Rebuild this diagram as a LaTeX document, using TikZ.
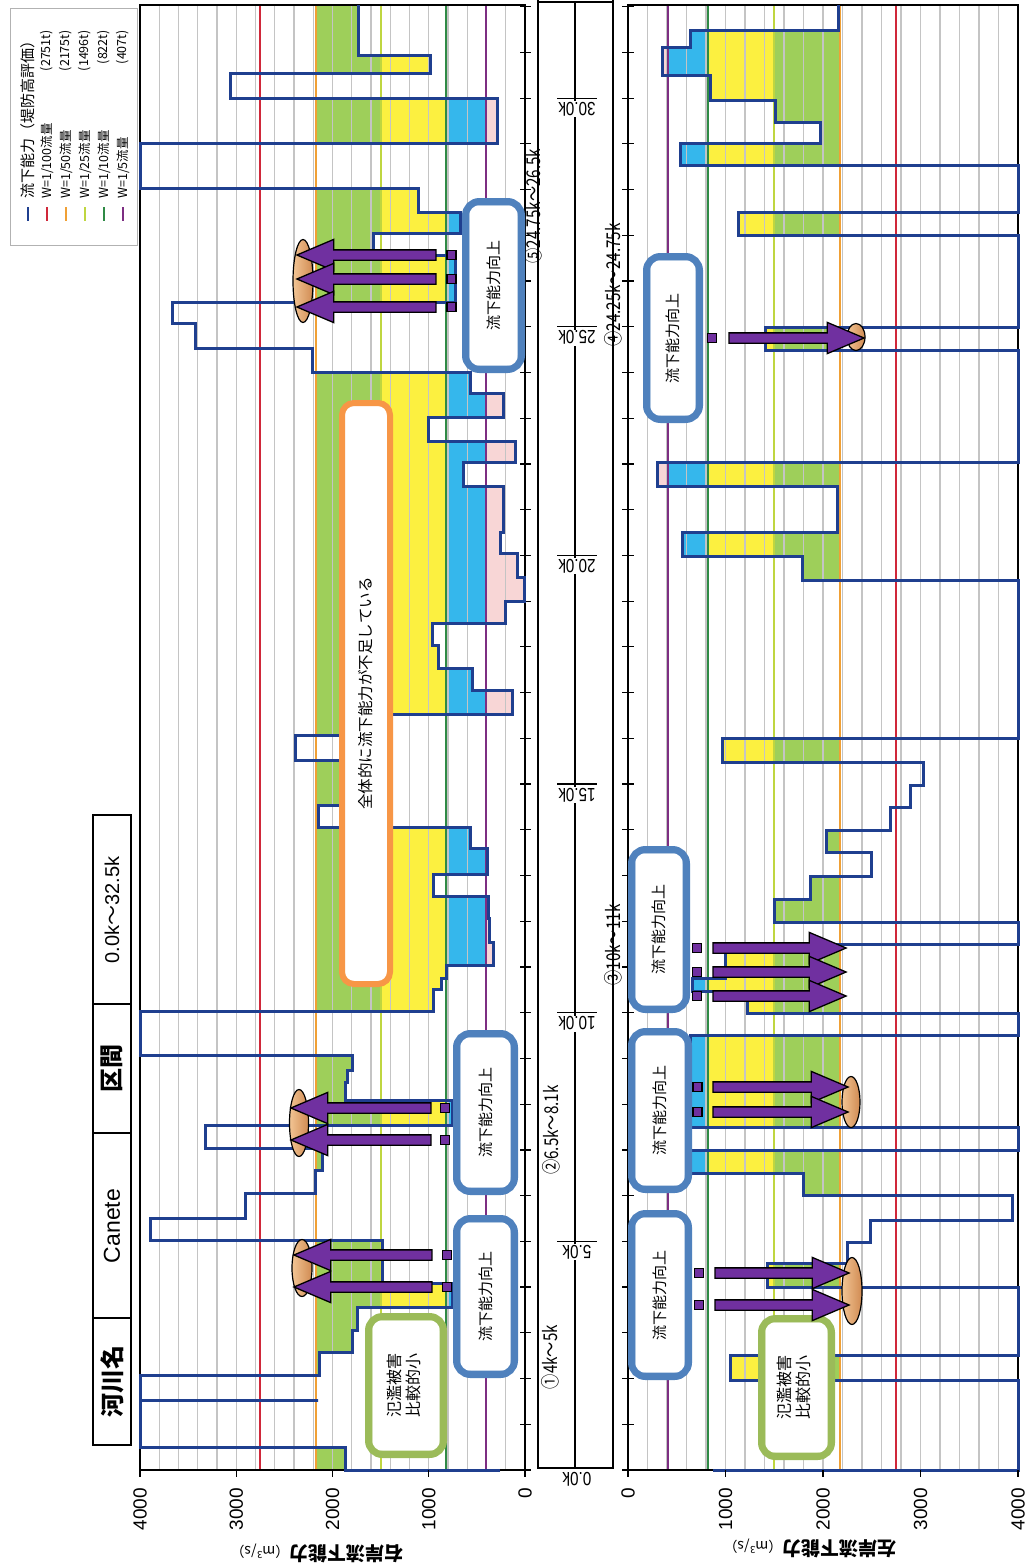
\documentclass[tikz,border=0pt]{standalone}
\usepackage{fontspec}
\setmainfont{Noto Sans CJK JP}
\newfontfamily\jpf{Noto Sans CJK JP}
\newfontfamily\jpn{Noto Sans CJK JP}[FakeStretch=0.8]
\newfontfamily\arf{Liberation Sans}
\newfontfamily\arn{Liberation Sans}[FakeStretch=0.8]
\usetikzlibrary{shapes.geometric,shapes.arrows}
\newcommand\myfs[1]{\fontsize{#1pt}{#1pt}\selectfont}
\definecolor{capblue}{HTML}{1F3F8F}
\definecolor{fgreen}{HTML}{9ECF5A}
\definecolor{fyellow}{HTML}{FCF040}
\definecolor{fcyan}{HTML}{35B7EC}
\definecolor{fpink}{HTML}{F8D6D6}
\definecolor{tred}{HTML}{D0283A}
\definecolor{torange}{HTML}{F0A035}
\definecolor{tyg}{HTML}{BFD640}
\definecolor{tgreen}{HTML}{2F8A45}
\definecolor{tpurple}{HTML}{7D2E82}
\definecolor{gridg}{HTML}{C4C4C4}
\definecolor{boxblue}{HTML}{4F81BD}
\definecolor{boxgreen}{HTML}{9BBB59}
\definecolor{boxorange}{HTML}{F79646}
\definecolor{arrpurple}{HTML}{7030A0}
\definecolor{ellA}{HTML}{F2C594}
\definecolor{ellB}{HTML}{D08A52}
\def\leftcap{(500,1470) -- (345,1470) -- (345,1447) -- (140,1447) -- (140,1400) -- (318,1400) -- (140,1400) -- (140,1375) -- (319,1375) -- (319,1352) -- (352,1352) -- (352,1330) -- (357,1330) -- (357,1307) -- (452,1307) -- (452,1283) -- (382,1283) -- (382,1240) -- (150,1240) -- (150,1218) -- (245,1218) -- (245,1193) -- (315,1193) -- (315,1170) -- (322,1170) -- (322,1148) -- (205,1148) -- (205,1125) -- (452,1125) -- (452,1100) -- (345,1100) -- (345,1082) -- (347,1082) -- (347,1070) -- (352,1070) -- (352,1055) -- (140,1055) -- (140,1011) -- (433,1011) -- (433,989) -- (441,989) -- (441,978) -- (446,978) -- (446,965) -- (493,965) -- (493,942) -- (489,942) -- (489,918) -- (488,918) -- (488,896) -- (433,896) -- (433,874) -- (487,874) -- (487,848) -- (470,848) -- (470,827) -- (318,827) -- (318,805) -- (375,805) -- (375,760) -- (295,760) -- (295,735) -- (375,735) -- (375,714) -- (512,714) -- (512,690) -- (472,690) -- (472,668) -- (438,668) -- (438,645) -- (432,645) -- (432,623) -- (505,623) -- (505,601) -- (524,601) -- (524,577) -- (517,577) -- (517,553) -- (500,553) -- (500,532) -- (503,532) -- (503,486) -- (463,486) -- (463,462) -- (515,462) -- (515,441) -- (428,441) -- (428,417) -- (503,417) -- (503,393) -- (470,393) -- (470,372) -- (312,372) -- (312,348) -- (195,348) -- (195,323) -- (172,323) -- (172,302) -- (455,302) -- (455,255) -- (373,255) -- (373,233) -- (460,233) -- (460,212) -- (418,212) -- (418,188) -- (140,188) -- (140,143) -- (497,143) -- (497,98) -- (230,98) -- (230,73) -- (430,73) -- (430,55) -- (358,55) -- (358,5)}
\def\rightcap{(713,1470) -- (1018,1470) -- (1018,1380) -- (730,1380) -- (730,1355) -- (1018,1355) -- (1018,1287) -- (767,1287) -- (767,1263) -- (847,1263) -- (847,1242) -- (870,1242) -- (870,1220) -- (1012,1220) -- (1012,1195) -- (803,1195) -- (803,1173) -- (690,1173) -- (690,1150) -- (1018,1150) -- (1018,1127) -- (690,1127) -- (690,1035) -- (1018,1035) -- (1018,1013) -- (747,1013) -- (747,991) -- (692,991) -- (692,978) -- (725,978) -- (725,944) -- (1018,944) -- (1018,922) -- (774,922) -- (774,899) -- (810,899) -- (810,876) -- (871,876) -- (871,852) -- (826,852) -- (826,830) -- (890,830) -- (890,807) -- (910,807) -- (910,785) -- (923,785) -- (923,762) -- (722,762) -- (722,738) -- (1018,738) -- (1018,580) -- (802,580) -- (802,556) -- (682,556) -- (682,532) -- (837,532) -- (837,486) -- (657,486) -- (657,462) -- (1018,462) -- (1018,350) -- (765,350) -- (765,327) -- (1018,327) -- (1018,235) -- (738,235) -- (738,212) -- (1018,212) -- (1018,165) -- (680,165) -- (680,143) -- (820,143) -- (820,122) -- (775,122) -- (775,100) -- (710,100) -- (710,75) -- (662,75) -- (662,47) -- (690,47) -- (690,30) -- (838,30) -- (838,5)}
\newcommand\dblbox[7]{%
  \node[draw=#6, line width=7pt, rounded corners=14pt, fill=white, minimum width=#4pt, minimum height=#5pt, inner sep=0pt] (#1) at (#2,#3) {#7};
  \draw[#6, line width=1.6pt, rounded corners=8pt] ([xshift=6.5pt,yshift=-6.5pt]#1.north west) rectangle ([xshift=-6.5pt,yshift=6.5pt]#1.south east);}
\begin{document}
\begin{tikzpicture}[x=1pt,y=-1pt,
  capline/.style={capblue, line width=3pt, line join=miter},
  gridln/.style={gridg, line width=1.3pt},
  axisln/.style={black, line width=1.2pt},
  thr/.style={line width=2.2pt},
  parrow/.style={single arrow, draw=black, line width=1.3pt, fill=arrpurple, inner sep=4.5pt, single arrow head extend=10.5pt, single arrow tip angle=46, minimum width=0pt},
  psq/.style={rectangle, draw=black, line width=1.2pt, fill=arrpurple, minimum size=9pt, inner sep=0pt},
  ell/.style={ellipse, draw=black, line width=1.2pt, left color=ellA, right color=ellB, inner sep=0pt},
  rlab/.style={rotate=90, inner sep=1pt},
  ticklab/.style={rotate=90, anchor=east, inner sep=0pt},
  dlab/.style={rotate=180, fill=white, inner sep=1pt}]
\useasboundingbox (0,0) rectangle (1026,1566);
\fill[white] (0,0) rectangle (1026,1566);
% ---------- left chart fills
\fill[fgreen] (316,5) rectangle (381,1470);
\fill[fyellow] (381,5) rectangle (446,1470);
\fill[fcyan] (446,5) rectangle (486,1470);
\fill[fpink] (486,5) rectangle (525,1470);
\fill[white] \leftcap -- (525,5) -- (525,1470) -- cycle;
% ---------- right chart fills
\fill[fpink] (628,5) rectangle (668,1470);
\fill[fcyan] (668,5) rectangle (708,1470);
\fill[fyellow] (708,5) rectangle (774,1470);
\fill[fgreen] (774,5) rectangle (840,1470);
\fill[white] \rightcap -- (628,5) -- (628,1470) -- cycle;
% ---------- grids
\foreach \k in {1,...,19} {
  \draw[gridln] ({525-19.25*\k},5) -- ({525-19.25*\k},1470);
  \draw[gridln] ({628+19.5*\k},5) -- ({628+19.5*\k},1470);
}
% ---------- thresholds
\draw[thr, tred] (260,5) -- (260,1470);
\draw[thr, torange] (316,5) -- (316,1470);
\draw[thr, tyg] (381,5) -- (381,1470);
\draw[thr, tgreen] (446,5) -- (446,1470);
\draw[thr, tpurple] (486,5) -- (486,1470);
\draw[thr, tred] (896,5) -- (896,1470);
\draw[thr, torange] (840,5) -- (840,1470);
\draw[thr, tyg] (774,5) -- (774,1470);
\draw[thr, tgreen] (708,5) -- (708,1470);
\draw[thr, tpurple] (668,5) -- (668,1470);
% ---------- frames and ticks
\draw[axisln] (140,5) rectangle (525,1470);
\draw[axisln] (628,5) rectangle (1018,1470);
\foreach \d in {0,...,32} {
  \draw[axisln] (520,{1470-45.73*\d}) -- (531,{1470-45.73*\d});
  \draw[axisln] (622,{1470-45.73*\d}) -- (634,{1470-45.73*\d});
}
% ---------- capacity lines
\draw[capline] \leftcap;
\draw[capline] \rightcap;
\foreach \k/\t in {0/0,1/1000,2/2000,3/3000,4/4000} {
  \draw[axisln] ({525-96.25*\k},1470) -- ({525-96.25*\k},1477);
  \draw[axisln] ({628+97.5*\k},1470) -- ({628+97.5*\k},1477);
  \node[ticklab] (tl\k) at ({525-96.25*\k},1488) {\arf\myfs{19}\t};
  \node[ticklab] (tr\k) at ({628+97.5*\k},1488) {\arf\myfs{19}\t};
}
\node[rotate=180] (ttl) at (317,1553) {\bfseries\myfs{19}右岸流下能力\mdseries\myfs{14}（m\textsuperscript{3}/s）};
\node[rotate=180] (ttr) at (810,1548) {\bfseries\myfs{19}左岸流下能力\mdseries\myfs{14}（m\textsuperscript{3}/s）};
% ---------- center distance strip
\draw[axisln] (538,0) -- (538,1468) -- (613,1468) -- (613,0);
\draw[axisln] (538,2) -- (613,2);
\draw[axisln] (575,2) -- (575,1468);
\foreach \d/\t in {5/5.0k,10/10.0k,15/15.0k,20/20.0k,25/25.0k,30/30.0k} {
  \draw[axisln] (557,{1470-45.73*\d}) -- (597,{1470-45.73*\d});
  \node[dlab] (d\d) at (577,{1481-45.73*\d}) {\arn\myfs{19}\t};
}
\node[dlab] (d0) at (577,1479) {\arn\myfs{19}0.0k};
% ---------- section labels
\node[rlab] (r1) at (550,1357) {\jpn\myfs{19}①4k～5k};
\node[rlab] (r2) at (551,1130) {\jpn\myfs{19}②6.5k～8.1k};
\node[rlab] (r3) at (613,945) {\jpn\myfs{19}③10k～11k};
\node[rlab] (r4) at (613,285) {\jpn\myfs{19}④24.25k～24.75k};
\node[rlab] (r5) at (533,206) {\jpn\myfs{19}⑤24.75k～26.5k};
% ---------- legend
\node[draw=gray!60, line width=0.8pt, fill=white, minimum width=127pt, minimum height=237pt, inner sep=0pt] (leg) at (73.5,126.5) {};
\draw[capblue, line width=1.8pt] (28,207) -- (28,221);
\node[rotate=90, anchor=west, inner sep=0pt] (lg0) at (28,199) {\myfs{15}流下能力（堤防高評価）};
\foreach \i/\c/\a/\b in {1/tred/100/2751t,2/torange/50/2175t,3/tyg/25/1496t,4/tgreen/10/822t,5/tpurple/5/407t} {
  \draw[\c, line width=1.8pt] ({28+19*\i},207) -- ({28+19*\i},221);
  \node[rotate=90, anchor=west, inner sep=0pt] (lga\i) at ({28+19*\i},199) {\myfs{12.5}W=1/\a 流量};
  \node[rotate=90, anchor=east, inner sep=0pt] (lgb\i) at ({28+19*\i},30) {\myfs{12.5}(\b)};
}
% ---------- header table
\draw[axisln] (93,815) rectangle (131,1445);
\draw[axisln] (93,1004) -- (131,1004);
\draw[axisln] (93,1133) -- (131,1133);
\draw[axisln] (93,1318) -- (131,1318);
\node[rotate=90] (h1) at (112,1381) {\bfseries\myfs{24}河川名};
\node[rotate=90] (h2) at (112,1226) {\arf\myfs{23}Canete};
\node[rotate=90] (h3) at (112,1068) {\bfseries\myfs{24}区間};
\node[rotate=90] (h4) at (112,910) {\arf\myfs{20}0.0k{\jpf ～}32.5k};
% ---------- boxes
\dblbox{bl1}{485.5}{1296.5}{58}{156}{boxblue}{\rotatebox{90}{\myfs{15}流下能力向上}}
\dblbox{bl2}{485.5}{1112.5}{58}{158}{boxblue}{\rotatebox{90}{\myfs{15}流下能力向上}}
\dblbox{bl3}{493.5}{285.5}{56}{168}{boxblue}{\rotatebox{90}{\myfs{15}流下能力向上}}
\dblbox{bra}{660}{1295}{57}{163}{boxblue}{\rotatebox{90}{\myfs{15}流下能力向上}}
\dblbox{brb}{660}{1110.5}{57}{158}{boxblue}{\rotatebox{90}{\myfs{15}流下能力向上}}
\dblbox{brc}{659}{929.5}{55}{160}{boxblue}{\rotatebox{90}{\myfs{15}流下能力向上}}
\dblbox{brd}{673}{338}{53}{163}{boxblue}{\rotatebox{90}{\myfs{15}流下能力向上}}
\dblbox{gl}{406}{1385.5}{75}{138}{boxgreen}{\rotatebox{90}{\fontsize{16pt}{19pt}\selectfont\begin{tabular}{@{}c@{}}氾濫被害\\比較的小\end{tabular}}}
\dblbox{gr}{796.5}{1387.5}{70}{138}{boxgreen}{\rotatebox{90}{\fontsize{16pt}{19pt}\selectfont\begin{tabular}{@{}c@{}}氾濫被害\\比較的小\end{tabular}}}
\node[draw=boxorange, line width=6pt, rounded corners=12pt, fill=white, minimum width=48pt, minimum height=581pt, inner sep=0pt] (ob) at (366,693.5) {\rotatebox{90}{\myfs{15.5}全体的に流下能力が不足している}};
% ---------- ellipses
\node[ell, minimum width=19pt, minimum height=67pt] (el2) at (299,1123) {};
\node[ell, minimum width=20pt, minimum height=57pt] (el1) at (302,1268) {};
\node[ell, minimum width=20pt, minimum height=83pt] (el3) at (303,281) {};
\node[ell, minimum width=18pt, minimum height=51pt] (erb) at (851,1102) {};
\node[ell, minimum width=20pt, minimum height=67pt] (era) at (852,1291) {};
\node[ell, minimum width=18pt, minimum height=27pt] (erd) at (856,337) {};
% ---------- arrows
\foreach \y/\n in {1108/a,1140/b} {
  \node[parrow, rotate=180, minimum height=140pt] (al2\n) at (367,\y) {};
  \node[psq] (sl2\n) at (445,\y) {};
}
\foreach \y/\n in {1255/a,1287/b} {
  \node[parrow, rotate=180, minimum height=138pt] (al1\n) at (369,\y) {};
  \node[psq] (sl1\n) at (447,\y) {};
}
\foreach \y/\n in {255/a,279/b,307/c} {
  \node[parrow, rotate=180, minimum height=139pt] (al3\n) at (372.5,\y) {};
  \node[psq] (sl3\n) at (451.5,\y) {};
}
\foreach \y/\n in {1087/a,1112/b} {
  \node[parrow, minimum height=135pt] (arb\n) at (774.5,\y) {};
  \node[psq] (srb\n) at (697.5,\y) {};
}
\foreach \y/\n in {1273/a,1305/b} {
  \node[parrow, minimum height=134pt] (ara\n) at (776,\y) {};
  \node[psq] (sra\n) at (699,\y) {};
}
\foreach \y/\n in {948/a,972/b,996/c} {
  \node[parrow, minimum height=133pt] (arc\n) at (773.5,\y) {};
  \node[psq] (src\n) at (697,\y) {};
}
\node[parrow, minimum height=135pt] (ard) at (790.5,338) {};
\node[psq] (srd) at (712,338) {};
\end{tikzpicture}
\end{document}
